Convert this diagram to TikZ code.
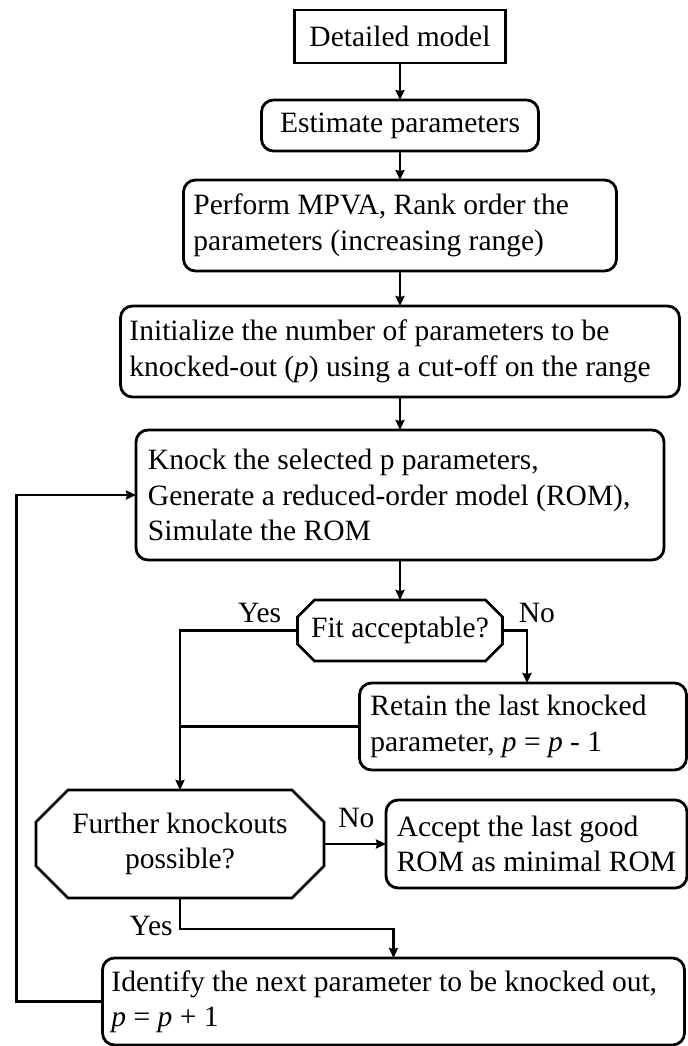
\documentclass[tikz,border=0pt]{standalone}
\usepackage{fontspec}
\setmainfont{Liberation Serif}
\usetikzlibrary{arrows.meta,positioning}

\begin{document}
\begin{tikzpicture}[
    node distance=15pt,
    every node/.style={font=\fontsize{14.75pt}{17.75pt}\selectfont},
    box/.style={rectangle, draw, line width=1.4pt, outer sep=0pt, align=center},
    rbox/.style={box, rounded corners=6pt},
    textbox/.style={rbox, align=flush left, inner ysep=3pt},
    decision/.style={rectangle, outer sep=0pt, align=center, inner sep=0pt},
    outline/.style={line width=1.4pt},
    arrow/.style={-{Stealth[length=5pt, width=4.5pt, inset=0.5pt]}, line width=1.2pt},
    link/.style={line width=1.2pt},
    lbl/.style={inner sep=0pt}
]
    \useasboundingbox (-200pt,18.25pt) rectangle (143.5pt,-504.75pt);

    % Main column
    \node[box, minimum width=105.5pt, minimum height=26.5pt] (detailed) at (0,0) {Detailed model};
    \node[rbox, below=18.5pt of detailed, minimum width=138.5pt, minimum height=25.5pt] (estimate) {Estimate parameters};
    \node[textbox, below=14.5pt of estimate, text width=206.5pt, inner xsep=5pt, minimum height=45.5pt] (perform)
        {Perform MPVA, Rank order the\\parameters (increasing range)};
    \node[textbox, below=17.5pt of perform, text width=270.5pt, inner xsep=4.5pt, minimum height=45.5pt] (init)
        {Initialize the number of parameters to be\\knocked-out (\textit{p}) using a cut-off on the range};
    \node[textbox, below=16.5pt of init, text width=252pt, inner xsep=6pt, minimum height=65pt] (knock)
        {Knock the selected p parameters,\\Generate a reduced-order model (ROM),\\Simulate the ROM};

    % Decisions
    \node[decision, below=20pt of knock, minimum width=102.5pt, minimum height=30.5pt] (fit) {Fit acceptable?};
    \node[textbox, below=11pt of fit, xshift=61.5pt, text width=152.5pt, inner xsep=5.5pt, minimum height=43.5pt] (retain)
        {Retain the last knocked\\parameter, \textit{p} = \textit{p} - 1};
    \node[decision, below=64.5pt of fit, xshift=-110pt, minimum width=144pt, minimum height=54pt] (further)
        {Further knockouts\\possible?};
    \node[textbox, right=31pt of further, inner xsep=4pt, minimum width=150.5pt, minimum height=44pt] (accept)
        {Accept the last good\\ROM as minimal ROM};
    \node[textbox, below=30pt of further, xshift=106.75pt, text width=282pt, inner xsep=4.5pt, minimum height=43.5pt] (identify)
        {Identify the next parameter to be knocked out,\\\textit{p} = \textit{p} + 1};

    % Octagon outlines of the decisions
    \foreach \n/\c in {fit/8.5pt, further/16pt}
        \draw[outline] ([xshift=\c]\n.north west) -- ([xshift=-\c]\n.north east) -- ([yshift=-\c]\n.north east)
            -- ([yshift=\c]\n.south east) -- ([xshift=-\c]\n.south east) -- ([xshift=\c]\n.south west)
            -- ([yshift=\c]\n.south west) -- ([yshift=-\c]\n.north west) -- cycle;

    % Labels
    \node[lbl, anchor=base east] (yesfit) at ([xshift=-8pt, yshift=4.25pt]fit.west) {Yes};
    \node[lbl, anchor=base west] (nofit) at ([xshift=8pt, yshift=4.25pt]fit.east) {No};
    \node[lbl, anchor=base west] (nofurther) at ([xshift=7pt, yshift=8.5pt]further.east) {No};
    \node[lbl, anchor=base east] (yesfurther) at ([xshift=-3.5pt, yshift=-18.5pt]further.south) {Yes};

    % Arrows
    \draw[arrow] (detailed) -- (estimate);
    \draw[arrow] (estimate) -- (perform);
    \draw[arrow] (perform) -- (init);
    \draw[arrow] (init) -- (knock);
    \draw[arrow] (knock) -- (fit);
    \draw[arrow] (fit.west) -| (further.north);
    \draw[arrow] (fit.east) -| ([xshift=2pt]retain.north);
    \draw[link] (retain.west) -- (retain.west -| further.north);
    \draw[arrow] (further) -- (accept);
    \draw[arrow] (further.south) -- ++(0,-15.5pt) -| (identify.north);
    \draw[arrow] (identify.west) -- ++(-43pt,0) |- (knock.west);

\end{tikzpicture}
\end{document}
